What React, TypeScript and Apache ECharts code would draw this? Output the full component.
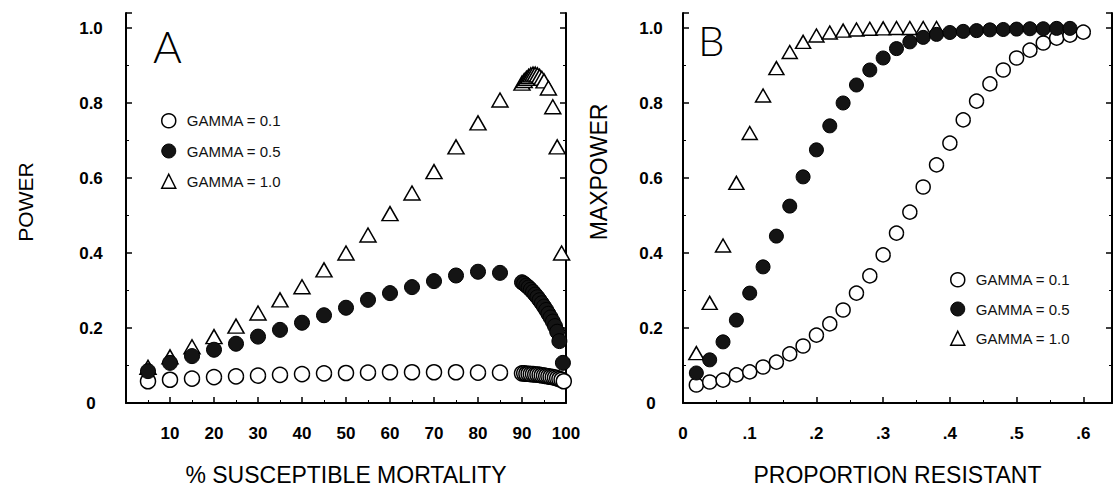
import React, { useEffect, useRef } from "react";
import * as echarts from "echarts";

// ---------- Panel A: % susceptible mortality vs power ----------
const aOpenX = [5, 10, 15, 20, 25, 30, 35, 40, 45, 50, 55, 60, 65, 70, 75, 80, 85, 90, 90.5, 91, 91.5, 92, 92.5, 93, 93.5, 94, 94.5, 95, 95.5, 96, 96.5, 97, 97.5, 98, 98.5, 99, 99.5];
const aOpenY = [0.058, 0.062, 0.065, 0.069, 0.071, 0.073, 0.075, 0.077, 0.079, 0.08, 0.081, 0.082, 0.082, 0.082, 0.082, 0.081, 0.081, 0.079, 0.079, 0.078, 0.078, 0.077, 0.077, 0.076, 0.076, 0.075, 0.074, 0.073, 0.072, 0.071, 0.07, 0.069, 0.068, 0.066, 0.064, 0.062, 0.058];

const aFilledX = [5, 10, 15, 20, 25, 30, 35, 40, 45, 50, 55, 60, 65, 70, 75, 80, 85, 90, 90.5, 91, 91.5, 92, 92.5, 93, 93.5, 94, 94.5, 95, 95.5, 96, 96.5, 97, 97.5, 98, 98.5, 99.3];
const aFilledY = [0.085, 0.107, 0.125, 0.142, 0.158, 0.177, 0.195, 0.214, 0.234, 0.254, 0.275, 0.293, 0.309, 0.325, 0.34, 0.35, 0.347, 0.322, 0.318, 0.313, 0.308, 0.302, 0.296, 0.289, 0.282, 0.274, 0.266, 0.257, 0.248, 0.238, 0.228, 0.217, 0.205, 0.19, 0.165, 0.107];

const aTriX = [5, 10, 15, 20, 25, 30, 35, 40, 45, 50, 55, 60, 65, 70, 75, 80, 85, 90, 90.5, 91, 91.5, 92, 92.5, 93, 93.5, 94, 94.5, 95, 96, 97, 98, 99];
const aTriY = [0.095, 0.123, 0.15, 0.177, 0.205, 0.24, 0.275, 0.31, 0.355, 0.4, 0.448, 0.505, 0.56, 0.617, 0.683, 0.747, 0.808, 0.853, 0.86, 0.866, 0.871, 0.875, 0.877, 0.877, 0.875, 0.871, 0.866, 0.859, 0.84, 0.79, 0.683, 0.4];

// ---------- Panel B: proportion resistant vs max power ----------
const bOpenX = [0.02, 0.04, 0.06, 0.08, 0.1, 0.12, 0.14, 0.16, 0.18, 0.2, 0.22, 0.24, 0.26, 0.28, 0.3, 0.32, 0.34, 0.36, 0.38, 0.4, 0.42, 0.44, 0.46, 0.48, 0.5, 0.52, 0.54, 0.56, 0.58, 0.6];
const bOpenY = [0.048, 0.056, 0.061, 0.075, 0.083, 0.096, 0.109, 0.131, 0.152, 0.181, 0.211, 0.248, 0.293, 0.339, 0.395, 0.453, 0.509, 0.576, 0.635, 0.693, 0.755, 0.805, 0.851, 0.888, 0.92, 0.941, 0.96, 0.973, 0.981, 0.989];

const bFilledX = [0.02, 0.04, 0.06, 0.08, 0.1, 0.12, 0.14, 0.16, 0.18, 0.2, 0.22, 0.24, 0.26, 0.28, 0.3, 0.32, 0.34, 0.36, 0.38, 0.4, 0.42, 0.44, 0.46, 0.48, 0.5, 0.52, 0.54, 0.56, 0.58];
const bFilledY = [0.08, 0.115, 0.163, 0.221, 0.293, 0.363, 0.445, 0.525, 0.603, 0.675, 0.739, 0.8, 0.848, 0.888, 0.92, 0.945, 0.963, 0.975, 0.983, 0.988, 0.991, 0.993, 0.995, 0.996, 0.997, 0.998, 0.998, 0.999, 0.999];

const bTriX = [0.02, 0.04, 0.06, 0.08, 0.1, 0.12, 0.14, 0.16, 0.18, 0.2, 0.22, 0.24, 0.26, 0.28, 0.3, 0.32, 0.34, 0.36, 0.38];
const bTriY = [0.133, 0.267, 0.42, 0.587, 0.72, 0.82, 0.893, 0.936, 0.963, 0.98, 0.988, 0.993, 0.996, 0.998, 0.999, 1.0, 1.0, 1.0, 1.0];

const seriesNames = ["GAMMA = 0.1", "GAMMA = 0.5", "GAMMA = 1.0"];
const aTicks = [10, 20, 30, 40, 50, 60, 70, 80, 90, 100];
const bTickLabels = ["0", ".1", ".2", ".3", ".4", ".5", ".6"];
const yTickLabels = ["0", "0.2", "0.4", "0.6", "0.8", "1.0"];

const FONT = "Liberation Sans";

const openStyle = { color: "#ffffff", borderColor: "#000", borderWidth: 1.5, opacity: 1 };
const filledStyle = { color: "#141414", borderColor: "#000", borderWidth: 1, opacity: 1 };
const triStyle = { color: "#ffffff", borderColor: "#000", borderWidth: 1.5, opacity: 1 };

const pairs = (xs: number[], ys: number[]) => xs.map((x, i) => [x, ys[i]]);

const isNear = (v: number, step: number) => Math.abs(v / step - Math.round(v / step)) < 1e-6;

function yAxisFor(grid: number, right: boolean, margin: number) {
  return {
    type: "value",
    gridIndex: grid,
    position: right ? "right" : "left",
    min: 0,
    max: 1.04,
    interval: 0.2,
    axisLine: { show: true, onZero: false, lineStyle: { color: "#000", width: 2 } },
    axisTick: { show: true, inside: true, length: 6, lineStyle: { color: "#000", width: 1.5 } },
    minorTick: { show: true, splitNumber: 2, length: 3, lineStyle: { color: "#000", width: 1 } },
    splitLine: { show: false },
    axisLabel: right
      ? { show: false }
      : {
          show: true,
          margin,
          align: "center",
          fontFamily: FONT,
          fontWeight: "bold",
          fontSize: 17,
          color: "#000",
          formatter: (v: number) => {
            if (!isNear(v, 0.2)) return "";
            const idx = Math.round(v / 0.2);
            return yTickLabels[idx] ?? "";
          },
        },
  };
}

function legendFor(left: number, top: number, gap: number) {
  return {
    orient: "vertical",
    left,
    top,
    itemWidth: 14,
    itemHeight: 14,
    itemGap: gap,
    selectedMode: false,
    textStyle: { fontFamily: FONT, fontSize: 15, color: "#111", padding: [0, 0, 0, 6] },
    data: [
      { name: seriesNames[0], icon: "circle", itemStyle: openStyle },
      { name: seriesNames[1], icon: "circle", itemStyle: filledStyle },
      { name: seriesNames[2], icon: "triangle", itemStyle: triStyle },
    ],
  };
}

export default function App() {
  const ref = useRef<HTMLDivElement>(null);

  useEffect(() => {
    if (!ref.current) return;
    const chart = echarts.init(ref.current, null, { renderer: "svg" });

    const option: any = {
      animation: false,
      backgroundColor: "#ffffff",
      grid: [
        { left: 126, top: 13, width: 440, height: 390 },
        { left: 683, top: 13, width: 429, height: 390 },
      ],
      xAxis: [
        {
          type: "value",
          gridIndex: 0,
          min: 0,
          max: 100,
          interval: 10,
          axisLine: { show: true, onZero: false, lineStyle: { color: "#000", width: 2 } },
          axisTick: { show: true, inside: true, length: 6, lineStyle: { color: "#000", width: 1.5 } },
          minorTick: { show: true, splitNumber: 2, length: 3, lineStyle: { color: "#000", width: 1 } },
          splitLine: { show: false },
          axisLabel: {
            margin: 22,
            fontFamily: FONT,
            fontWeight: "bold",
            fontSize: 17,
            color: "#000",
            formatter: (v: number) => (aTicks.indexOf(Math.round(v)) >= 0 && isNear(v, 10) ? String(Math.round(v)) : ""),
          },
          name: "% SUSCEPTIBLE MORTALITY",
          nameLocation: "middle",
          nameGap: 60,
          nameTextStyle: { fontFamily: FONT, fontSize: 23, color: "#000" },
        },
        {
          type: "value",
          gridIndex: 1,
          min: 0,
          max: 0.643,
          interval: 0.1,
          axisLine: { show: true, onZero: false, lineStyle: { color: "#000", width: 2 } },
          axisTick: { show: true, inside: true, length: 6, lineStyle: { color: "#000", width: 1.5 } },
          minorTick: { show: true, splitNumber: 2, length: 3, lineStyle: { color: "#000", width: 1 } },
          splitLine: { show: false },
          axisLabel: {
            margin: 22,
            fontFamily: FONT,
            fontWeight: "bold",
            fontSize: 17,
            color: "#000",
            showMaxLabel: false,
            formatter: (v: number) => {
              if (!isNear(v, 0.1)) return "";
              return bTickLabels[Math.round(v / 0.1)] ?? "";
            },
          },
          name: "PROPORTION RESISTANT",
          nameLocation: "middle",
          nameGap: 60,
          nameTextStyle: { fontFamily: FONT, fontSize: 23, color: "#000" },
        },
      ],
      yAxis: [yAxisFor(0, false, 35), yAxisFor(0, true, 0), yAxisFor(1, false, 32), yAxisFor(1, true, 0)],
      legend: [legendFor(156, 108, 15), legendFor(945, 267, 14)],
      graphic: [
        {
          type: "text",
          left: 153,
          top: 24,
          style: { text: "A", fontFamily: "Lato", fontWeight: 300, fontSize: 44, fill: "#000" },
        },
        {
          type: "text",
          left: 698,
          top: 19,
          style: { text: "B", fontFamily: "Lato", fontWeight: 300, fontSize: 42, fill: "#000" },
        },
        {
          type: "text",
          x: 25,
          y: 202,
          rotation: Math.PI / 2,
          style: { text: "POWER", fontFamily: FONT, fontSize: 21, fill: "#000", align: "center", verticalAlign: "middle" },
        },
        {
          type: "text",
          x: 599,
          y: 172,
          rotation: Math.PI / 2,
          style: { text: "MAXPOWER", fontFamily: FONT, fontSize: 23, fill: "#000", align: "center", verticalAlign: "middle" },
        },
      ],
      series: [
        {
          name: seriesNames[0], type: "scatter", xAxisIndex: 0, yAxisIndex: 0, z: 2,
          symbol: "circle", symbolSize: 15, itemStyle: openStyle, data: pairs(aOpenX, aOpenY),
        },
        {
          name: seriesNames[2], type: "scatter", xAxisIndex: 0, yAxisIndex: 0, z: 3,
          symbol: "triangle", symbolSize: [16, 14], itemStyle: triStyle, data: pairs(aTriX, aTriY),
        },
        {
          name: seriesNames[1], type: "scatter", xAxisIndex: 0, yAxisIndex: 0, z: 4,
          symbol: "circle", symbolSize: 15, itemStyle: filledStyle, data: pairs(aFilledX, aFilledY),
        },
        {
          name: seriesNames[0], type: "scatter", xAxisIndex: 1, yAxisIndex: 2, z: 2,
          symbol: "circle", symbolSize: 14, itemStyle: openStyle, data: pairs(bOpenX, bOpenY),
        },
        {
          name: seriesNames[2], type: "scatter", xAxisIndex: 1, yAxisIndex: 2, z: 3,
          symbol: "triangle", symbolSize: [15, 13], itemStyle: triStyle, data: pairs(bTriX, bTriY),
        },
        {
          name: seriesNames[1], type: "scatter", xAxisIndex: 1, yAxisIndex: 2, z: 4,
          symbol: "circle", symbolSize: 14, itemStyle: filledStyle, data: pairs(bFilledX, bFilledY),
        },
      ],
    };

    chart.setOption(option);
    return () => chart.dispose();
  }, []);

  return (
    <div
      ref={ref}
      style={{ position: "fixed", left: 0, top: 0, width: 1117, height: 491, background: "#fff" }}
    />
  );
}
